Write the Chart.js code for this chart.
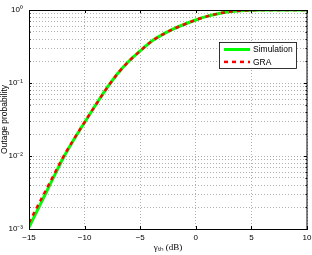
<!DOCTYPE html>
<html>
<head>
<meta charset="utf-8">
<script src="https://cdn.jsdelivr.net/npm/chart.js@4"></script>
<style>
  body { margin: 0; background: #fff; }
  canvas { display: block; }
</style>
</head>
<body>
<canvas id="chart" width="312" height="255"></canvas>
<script>
// threshold in dB
const gammaDb = [-15, -14, -13, -12, -11, -10, -9, -8, -7, -6, -5, -4, -3, -2, -1, 0, 1, 2, 3, 4, 5, 6, 7, 8, 9, 10];
const simulation = [0.00105, 0.00214, 0.00438, 0.0089, 0.0164, 0.0288, 0.050, 0.085, 0.136, 0.20, 0.275, 0.37, 0.46, 0.55, 0.638, 0.73, 0.817, 0.89, 0.946, 0.979, 0.993, 0.998, 0.9995, 1, 1, 1];
const gra = [0.00122, 0.0024, 0.0047, 0.0092, 0.0167, 0.029, 0.050, 0.085, 0.136, 0.20, 0.275, 0.37, 0.46, 0.55, 0.638, 0.73, 0.817, 0.89, 0.946, 0.979, 0.993, 0.998, 0.9995, 1, 1, 1];

const xTicks = [-15, -10, -5, 0, 5, 10];
const decades = [0.001, 0.01, 0.1, 1];
const decadeLabels = ['10\u207B\u00B3', '10\u207B\u00B2', '10\u207B\u00B9', '10\u2070'];

// grid positions: 1..9 x each decade
const yGrid = [];
decades.slice(0, -1).forEach(d => {
    for (let m = 1; m <= 9; m++) yGrid.push(d * m);
});
yGrid.push(1);

const sans = 'Liberation Sans, Arial, sans-serif';

// box + inward tick marks
const framePlugin = {
    id: 'frame',
    afterDatasetsDraw(chart) {
        const { ctx, chartArea: a, scales } = chart;
        ctx.save();
        ctx.strokeStyle = '#000';
        ctx.lineWidth = 1;
        ctx.strokeRect(a.left + 0.5, a.top + 0.5, a.right - a.left - 0.5, a.bottom - a.top);
        ctx.beginPath();
        xTicks.forEach(v => {
            const x = Math.round(scales.x.getPixelForValue(v)) + 0.5;
            ctx.moveTo(x, a.bottom); ctx.lineTo(x, a.bottom - 3);
            ctx.moveTo(x, a.top); ctx.lineTo(x, a.top + 3);
        });
        yGrid.forEach((v, i) => {
            const y = Math.round(scales.y.getPixelForValue(v)) + 0.5;
            const len = i % 9 === 0 ? 3 : 1.5;
            ctx.moveTo(a.left, y); ctx.lineTo(a.left + len, y);
            ctx.moveTo(a.right, y); ctx.lineTo(a.right - len, y);
        });
        ctx.stroke();
        ctx.restore();
    }
};

// legend box inside the plot, like the original
const legendPlugin = {
    id: 'boxLegend',
    afterDraw(chart) {
        const { ctx } = chart;
        const bx = 219.5, by = 42.5, bw = 77, bh = 26;
        ctx.save();
        ctx.fillStyle = '#fff';
        ctx.fillRect(bx, by, bw, bh);
        ctx.strokeStyle = '#000';
        ctx.lineWidth = 0.8;
        ctx.strokeRect(bx, by, bw, bh);
        chart.data.datasets.forEach((ds, i) => {
            const y = by + 7 + i * 12.4;
            ctx.beginPath();
            ctx.strokeStyle = ds.borderColor;
            ctx.lineWidth = ds.borderWidth;
            ctx.setLineDash(ds.borderDash || []);
            ctx.moveTo(224, y);
            ctx.lineTo(250, y);
            ctx.stroke();
            ctx.setLineDash([]);
            ctx.fillStyle = '#000';
            ctx.font = '8.5px ' + sans;
            ctx.textBaseline = 'middle';
            ctx.fillText(ds.label, 253, y + 0.5);
        });
        ctx.restore();
    }
};

new Chart(document.getElementById('chart'), {
    type: 'line',
    data: {
        labels: gammaDb,
        datasets: [
            {
                label: 'Simulation',
                data: gammaDb.map((g, i) => ({ x: g, y: simulation[i] })),
                borderColor: '#00ff00',
                borderWidth: 3,
                pointRadius: 0,
                cubicInterpolationMode: 'monotone',
                order: 1,
                fill: false
            },
            {
                label: 'GRA',
                data: gammaDb.map((g, i) => ({ x: g, y: gra[i] })),
                borderColor: '#ff0000',
                borderWidth: 2.5,
                borderDash: [4, 4],
                pointRadius: 0,
                cubicInterpolationMode: 'monotone',
                order: 0,
                fill: false
            }
        ]
    },
    options: {
        responsive: false,
        animation: false,
        devicePixelRatio: 1,
        layout: { padding: { top: 10, right: 5, left: 0, bottom: 0 } },
        plugins: {
            legend: { display: false },
            tooltip: { enabled: false }
        },
        scales: {
            x: {
                type: 'linear',
                min: -15,
                max: 10,
                afterBuildTicks: s => { s.ticks = xTicks.map(v => ({ value: v })); },
                afterFit: s => { s.height = 26; s.paddingLeft = 0; s.paddingRight = 0; },
                ticks: {
                    autoSkip: false,
                    maxRotation: 0,
                    padding: 4,
                    color: '#000',
                    font: { family: sans, size: 8 },
                    callback: v => String(v).replace('-', '\u2212')
                },
                grid: { color: '#b0b0b0', lineWidth: 1, drawTicks: false },
                border: { display: true, color: '#000', dash: [1, 2] },
                title: {
                    display: true,
                    text: '\u03B3\u209C\u2095 (dB)',
                    color: '#000',
                    font: { family: 'Liberation Serif, Times New Roman, serif', size: 9 },
                    padding: { top: 0, bottom: 2 }
                }
            },
            y: {
                type: 'logarithmic',
                min: 0.001,
                max: 1,
                afterBuildTicks: s => { s.ticks = yGrid.map(v => ({ value: v })); },
                afterFit: s => { s.width = 29; s.paddingTop = 0; s.paddingBottom = 0; },
                ticks: {
                    autoSkip: false,
                    padding: 6,
                    color: '#000',
                    font: { family: sans, size: 8 },
                    callback: (v, i) => (i % 9 === 0 ? decadeLabels[i / 9] : '')
                },
                grid: { color: '#b0b0b0', lineWidth: 1, drawTicks: false },
                border: { display: true, color: '#000', dash: [1, 2] },
                title: {
                    display: true,
                    text: 'Outage probability',
                    color: '#000',
                    font: { family: sans, size: 8.5 },
                    padding: { top: 0, bottom: 0 }
                }
            }
        }
    },
    plugins: [framePlugin, legendPlugin]
});
</script>
</body>
</html>
